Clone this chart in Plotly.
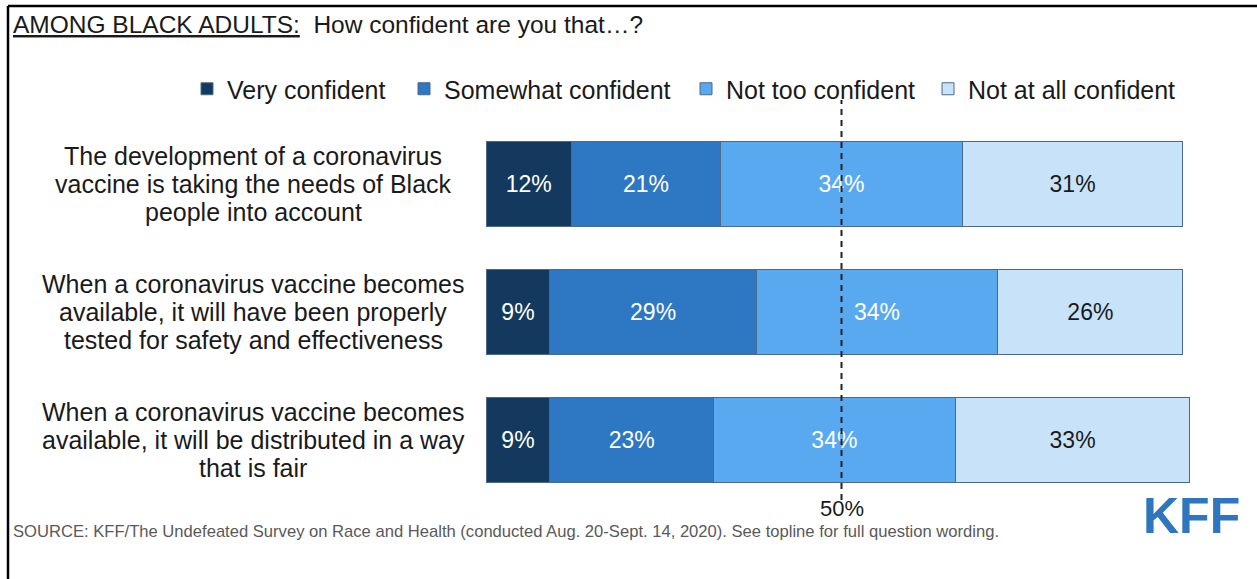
import plotly.graph_objects as go

# Survey items (top to bottom); "<br>" marks line breaks in the row labels
statements = [
    "The development of a coronavirus<br>vaccine is taking the needs of Black<br>people into account",
    "When a coronavirus vaccine becomes<br>available, it will have been properly<br>tested for safety and effectiveness",
    "When a coronavirus vaccine becomes<br>available, it will be distributed in a way<br>that is fair",
]
row_ids = ["q1", "q2", "q3"]

response_levels = ["Very confident", "Somewhat confident", "Not too confident", "Not at all confident"]
very_confident = [12, 9, 9]
somewhat_confident = [21, 29, 23]
not_too_confident = [34, 34, 34]
not_at_all_confident = [31, 26, 33]

series_values = [very_confident, somewhat_confident, not_too_confident, not_at_all_confident]
fill_colors = ["#133a5e", "#2e77c2", "#59a9f1", "#c8e3f9"]
label_colors = ["white", "white", "white", "#1a1a1a"]

midpoint = 50
midpoint_label = "50%"

FONT = "Liberation Sans, Arial, sans-serif"

# layout constants in pixels
W, H = 1257, 579
ML, MR, MT, MB = 486, 60, 120, 75
PW, PH = W - ML - MR, H - MT - MB
ROW_PX = PH / len(row_ids)


def px_x(p):
    return (p - ML) / PW


def px_y(p):
    return (H - MB - p) / PH


fig = go.Figure()

legend_left_px = [187, 404, 686, 928]
for i, (name, vals) in enumerate(zip(response_levels, series_values)):
    fig.add_trace(go.Bar(
        name=name,
        y=row_ids,
        x=vals,
        orientation="h",
        marker=dict(color=fill_colors[i], line=dict(color="#4b6a88", width=1)),
        text=[f"{v}%" for v in vals],
        textposition="inside",
        insidetextanchor="middle",
        textangle=0,
        textfont=dict(family=FONT, size=23, color=label_colors[i]),
        hoverinfo="skip",
        legend="legend" if i == 0 else f"legend{i + 1}",
    ))

legend_common = dict(
    orientation="h",
    yanchor="middle",
    xanchor="left",
    bgcolor="rgba(0,0,0,0)",
    font=dict(family=FONT, size=25, color="#1a1a1a"),
    itemclick=False,
    itemdoubleclick=False,
)
legend_layout = {}
for i, lx in enumerate(legend_left_px):
    key = "legend" if i == 0 else f"legend{i + 1}"
    legend_layout[key] = dict(legend_common, x=px_x(lx), y=px_y(89))

# row labels: one annotation per line so the line spacing stays tight
annotations = []
line_step = 28 / ROW_PX  # line spacing in category units
for idx, txt in enumerate(statements):
    lines = txt.split("<br>")
    for k, line in enumerate(lines):
        offset = (k - (len(lines) - 1) / 2) * line_step
        annotations.append(dict(
            x=px_x(253), xref="paper", y=idx + offset, yref="y",
            text=line, showarrow=False, xanchor="center", yanchor="middle",
            font=dict(family=FONT, size=25, color="#1a1a1a"),
        ))

# title
annotations.append(dict(
    x=px_x(11), xref="paper", y=px_y(24), yref="paper",
    text="<u>AMONG BLACK ADULTS:</u>  How confident are you that…?",
    showarrow=False, xanchor="left", yanchor="middle",
    font=dict(family=FONT, size=24.5, color="#1a1a1a"),
))
# midpoint label
annotations.append(dict(
    x=midpoint, xref="x", y=px_y(508), yref="paper",
    text=midpoint_label, showarrow=False, xanchor="center", yanchor="middle",
    font=dict(family=FONT, size=22, color="#1a1a1a"),
))
# source note
annotations.append(dict(
    x=px_x(11), xref="paper", y=px_y(531), yref="paper",
    text="SOURCE: KFF/The Undefeated Survey on Race and Health (conducted Aug. 20-Sept. 14, 2020). See topline for full question wording.",
    showarrow=False, xanchor="left", yanchor="middle",
    font=dict(family=FONT, size=16.6, color="#595959"),
))
# logo
annotations.append(dict(
    x=px_x(1191), xref="paper", y=px_y(516), yref="paper",
    text="<b>KFF</b>", showarrow=False, xanchor="center", yanchor="middle",
    font=dict(family=FONT, size=50, color="#2f76bf"),
))

shapes = [
    # dashed 50% reference line
    dict(type="line", xref="x", yref="paper", x0=midpoint, x1=midpoint,
         y0=px_y(500), y1=px_y(100), line=dict(color="#222222", width=2, dash="6px,5px"),
         layer="above"),
    # frame: top and left edges
    dict(type="line", xref="paper", yref="paper", x0=px_x(8), x1=px_x(1257),
         y0=px_y(6), y1=px_y(6), line=dict(color="black", width=2.5)),
    dict(type="line", xref="paper", yref="paper", x0=px_x(8), x1=px_x(8),
         y0=px_y(6), y1=px_y(579), line=dict(color="black", width=2.5)),
]

fig.update_layout(
    width=W, height=H,
    margin=dict(l=ML, r=MR, t=MT, b=MB),
    barmode="stack",
    bargap=0.336,
    paper_bgcolor="white",
    plot_bgcolor="white",
    showlegend=True,
    annotations=annotations,
    shapes=shapes,
    xaxis=dict(range=[0, 100], visible=False, fixedrange=True),
    yaxis=dict(categoryorder="array", categoryarray=row_ids, range=[2.5, -0.5],
               visible=False, fixedrange=True),
    **legend_layout,
)

fig.write_html("out.html", config={"displayModeBar": False})
